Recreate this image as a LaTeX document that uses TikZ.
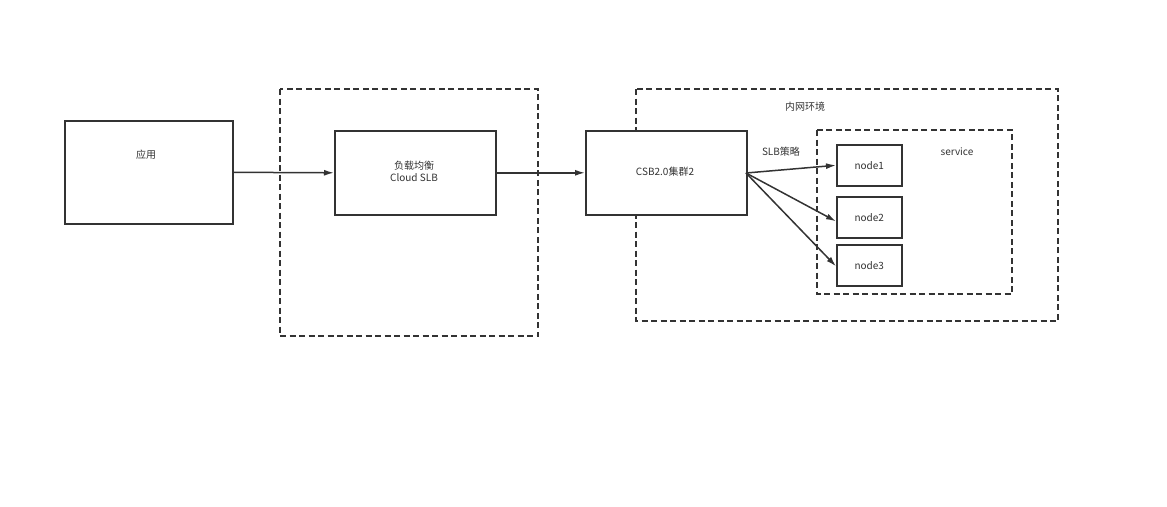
\documentclass[tikz,border=0pt]{standalone}
\usepackage{fontspec}
\setmainfont{Noto Sans CJK SC}
\usetikzlibrary{arrows.meta}
\definecolor{ln}{HTML}{333333}
\begin{document}
\begin{tikzpicture}[x=1pt,y=-1pt,
  solidbox/.style={draw=ln,line width=1.6pt,fill=white},
  dashbox/.style={draw=ln,line width=1.1pt,dash pattern=on 6pt off 3.5pt},
  lbl/.style={font=\fontsize{10}{12}\selectfont,text=ln,inner sep=0pt},
  conn/.style={draw=ln,line width=1.5pt,-{Latex[length=10pt,width=6pt]}}]
\useasboundingbox (0,0) rectangle (1167,506);
\draw[dashbox] (280,89) rectangle (538,336);
\draw[dashbox] (636,89) rectangle (1058,321);
\draw[dashbox] (817,130) rectangle (1012,294);
\node[solidbox,minimum width=168pt,minimum height=103pt,anchor=north west,inner sep=0pt] (app) at (64,120) {};
\node[lbl] (applbl) at (146,155) {应用};
\node[solidbox,minimum width=161pt,minimum height=84pt,anchor=north west,inner sep=0pt] (slb) at (334,130) {};
\node[lbl,align=center] (slblbl) at (414,171) {负载均衡\\Cloud SLB};
\node[solidbox,minimum width=161pt,minimum height=84pt,anchor=north west,inner sep=0pt] (csb) at (585,130) {};
\node[lbl] (csblbl) at (665,172) {CSB2.0集群2};
\node[lbl] (intra) at (805,107) {内网环境};
\node[lbl] (svc) at (957,152) {service};
\node[lbl] (pol) at (781,152) {SLB策略};
\node[solidbox,minimum width=65pt,minimum height=41pt,anchor=north west,inner sep=0pt] (n1) at (836,144) {};
\node[lbl] at (n1.center) {node1};
\node[solidbox,minimum width=65pt,minimum height=41pt,anchor=north west,inner sep=0pt] (n2) at (836,196) {};
\node[lbl] at (n2.center) {node2};
\node[solidbox,minimum width=65pt,minimum height=41pt,anchor=north west,inner sep=0pt] (n3) at (836,244) {};
\node[lbl] at (n3.center) {node3};
\coordinate (csbout) at (746,173);
\draw[conn] (app.east) -- (slb.west);
\draw[conn] (slb.east) -- (csb.west);
\draw[conn] (csbout) -- (n1.west);
\draw[conn] (csbout) -- ([yshift=-4pt]n2.west);
\draw[conn] (csbout) -- ([yshift=-1pt]n3.west);
\end{tikzpicture}
\end{document}
